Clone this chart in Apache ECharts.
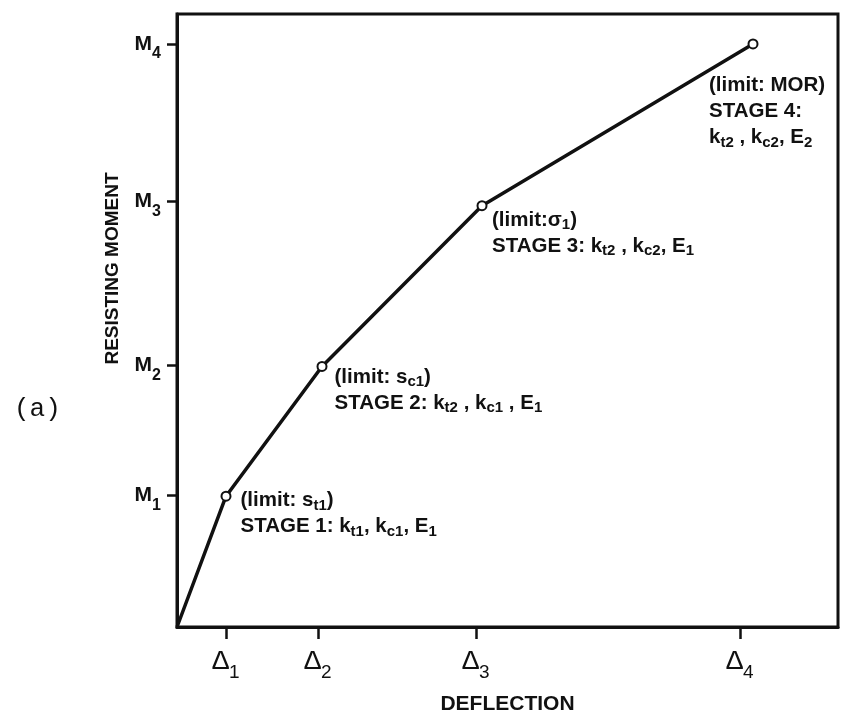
<!DOCTYPE html>
<html>
<head>
<meta charset="utf-8">
<script src="https://cdn.jsdelivr.net/npm/echarts@6/dist/echarts.min.js"></script>
<style>html,body{margin:0;padding:0;background:#fff}#c{width:842px;height:720px}</style>
</head>
<body>
<div id="c"></div>
<script>
// ---- data (arbitrary units) ----
const deflection = [0, 49, 145, 305, 576];
const moment = [0, 131, 261, 422, 584];
const xTicks = [49, 141, 299, 563];
const xTickSubs = ['1', '2', '3', '4'];
const yTicks = [132, 262, 426, 584];
const yTickSubs = ['1', '2', '3', '4'];
const xMax = 661;
const yMax = 614;
const annotations = [
  '',
  '(limit: s{sub|t1})\nSTAGE 1: k{sub|t1}, k{sub|c1}, E{sub|1}',
  '(limit: s{sub|c1})\nSTAGE 2: k{sub|t2} , k{sub|c1} , E{sub|1}',
  '(limit:σ{sub|1})\nSTAGE 3: k{sub|t2} , k{sub|c2}, E{sub|1}',
  '(limit: MOR)\nSTAGE 4:\nk{sub|t2} , k{sub|c2}, E{sub|2}'
];
const xName = 'DEFLECTION';
const yName = 'RESISTING MOMENT';
const panelTag = '(a)';

// ---- styling ----
const labelPos = [null, [20, -3], [18, 3], [15.5, 7], [-38.5, 34]];
const SANS = "'Liberation Sans', Arial, sans-serif";
const annRich = {
  sub: { fontFamily: SANS, fontWeight: 'bold', fontSize: 15, lineHeight: 15, padding: [10, 0, 0, 0], color: '#111' }
};

const seriesData = deflection.map((x, i) => {
  const item = { value: [x, moment[i]] };
  if (i === 0) {
    item.symbol = 'none';
  } else {
    item.label = {
      show: true,
      position: labelPos[i],
      align: 'left',
      verticalAlign: 'top',
      formatter: annotations[i],
      fontFamily: SANS,
      fontWeight: 'bold',
      fontSize: 20.5,
      lineHeight: 26,
      color: '#111',
      rich: annRich
    };
  }
  return item;
});

const chart = echarts.init(document.getElementById('c'), null, { renderer: 'canvas' });
chart.setOption({
  animation: false,
  backgroundColor: '#fff',
  grid: {
    left: 177, right: 4, top: 14, bottom: 92,
    show: true, borderColor: '#111', borderWidth: 3
  },
  graphic: [{
    type: 'text', left: 14, top: 396,
    style: { text: panelTag, font: "26px 'Liberation Mono', monospace", fill: '#111' }
  }],
  xAxis: {
    type: 'value', min: 0, max: xMax,
    name: xName, nameLocation: 'middle', nameGap: 67,
    nameTextStyle: { fontFamily: SANS, fontWeight: 'bold', fontSize: 21, color: '#111' },
    axisLine: { show: true, lineStyle: { color: '#111', width: 3 } },
    axisTick: { show: true, length: 12, customValues: xTicks, lineStyle: { color: '#111', width: 2.5 } },
    splitLine: { show: false },
    axisLabel: {
      customValues: xTicks, margin: 14,
      formatter: v => '{d|Δ}{s|' + xTickSubs[xTicks.indexOf(v)] + '}',
      rich: {
        d: { fontFamily: "'Liberation Mono', monospace", fontSize: 28, color: '#111' },
        s: { fontFamily: SANS, fontSize: 19, padding: [22, 0, 0, 0], color: '#111' }
      }
    }
  },
  yAxis: {
    type: 'value', min: 0, max: yMax,
    name: yName, nameLocation: 'middle', nameGap: 55, nameRotate: 90,
    nameTextStyle: { fontFamily: SANS, fontWeight: 'bold', fontSize: 19, color: '#111', padding: [0, 0, 0, 104] },
    axisLine: { show: true, lineStyle: { color: '#111', width: 3 } },
    axisTick: { show: true, length: 10, customValues: yTicks, lineStyle: { color: '#111', width: 2.5 } },
    splitLine: { show: false },
    axisLabel: {
      customValues: yTicks, margin: 16,
      formatter: v => '{m|M}{s|' + yTickSubs[yTicks.indexOf(v)] + '}',
      rich: {
        m: { fontFamily: SANS, fontWeight: 'bold', fontSize: 21, color: '#111' },
        s: { fontFamily: SANS, fontWeight: 'bold', fontSize: 16, padding: [20, 0, 0, 0], color: '#111' }
      }
    }
  },
  series: [{
    type: 'line',
    data: seriesData,
    symbol: 'circle',
    symbolSize: 9,
    lineStyle: { color: '#111', width: 3.5 },
    itemStyle: { color: '#fff', borderColor: '#111', borderWidth: 2 },
    emphasis: { disabled: true },
    z: 3
  }]
});
</script>
</body>
</html>
